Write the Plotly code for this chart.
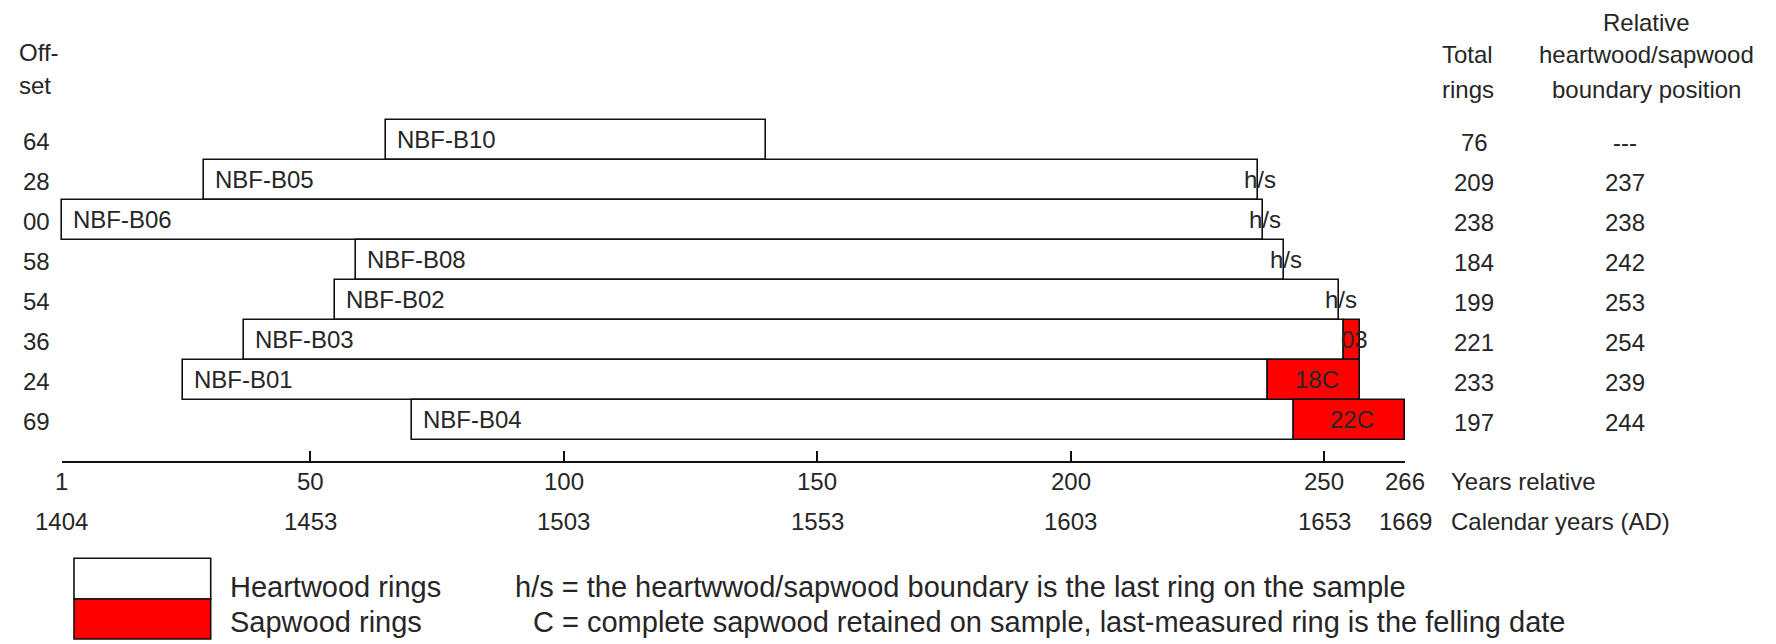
import plotly.graph_objects as go

# ---------------- data ----------------
samples = ["NBF-B10", "NBF-B05", "NBF-B06", "NBF-B08", "NBF-B02", "NBF-B03", "NBF-B01", "NBF-B04"]
offsets = [64, 28, 0, 58, 54, 36, 24, 69]
total_rings = [76, 209, 238, 184, 199, 221, 233, 197]
hs_boundary = [None, 237, 238, 242, 253, 254, 239, 244]
end_labels = ["", "h/s", "h/s", "h/s", "h/s", "03", "18C", "22C"]
rel_ticks = [1, 50, 100, 150, 200, 250, 266]
first_calendar_year = 1404

# ---------------- layout constants ----------------
W, H = 1776, 644
PX_1, PX_266 = 61.7, 1405.3          # pixel position of relative years 1 and 266
K = (PX_266 - PX_1) / 265.0          # pixels per year
ROW0, ROWH = 139.7, 40.0             # pixel centre of first row, row height


def px2v(px):
    return 1 + (px - PX_1) / K


def py2r(py):
    return (py - ROW0) / ROWH


def pxp(px):
    return px / W


def pyp(py):
    return 1 - py / H


FONT = "Arial, Liberation Sans, sans-serif"
TXT = "#262626"
FS = 24

rows = list(range(len(samples)))
starts = [o + 1 for o in offsets]
ends = [o + t for o, t in zip(offsets, total_rings)]
hw_end = [min(e, b) if b is not None else e for e, b in zip(ends, hs_boundary)]

sap_rows, sap_base, sap_len = [], [], []
for r, b, e in zip(rows, hs_boundary, ends):
    if b is not None and e > b:
        sap_rows.append(r)
        sap_base.append(b)
        sap_len.append(e - b)

fig = go.Figure()

fig.add_trace(go.Bar(
    orientation="h", y=rows, base=starts,
    x=[he - s for he, s in zip(hw_end, starts)],
    width=1, marker=dict(color="white", line=dict(color="#111", width=1.6)),
    hoverinfo="skip", showlegend=False))
fig.add_trace(go.Bar(
    orientation="h", y=sap_rows, base=sap_base, x=sap_len,
    width=1, marker=dict(color="#ff0000", line=dict(color="#111", width=1.6)),
    hoverinfo="skip", showlegend=False))

# invisible trace on the display axis so that it is drawn
fig.add_trace(go.Scatter(x=rel_ticks, y=[0] * len(rel_ticks), xaxis="x2", yaxis="y",
                         mode="markers", marker=dict(opacity=0), hoverinfo="skip",
                         showlegend=False))

ann = []


def add(x, y, text, xanchor="center", xref="x", yref="y", xshift=0, size=FS):
    ann.append(dict(x=x, y=y, text=text, xref=xref, yref=yref, xanchor=xanchor,
                    yanchor="middle", showarrow=False, xshift=xshift,
                    font=dict(family=FONT, size=size, color=TXT)))


for r, s, name in zip(rows, starts, samples):
    add(s, r, name, xanchor="left", xshift=9)

for r, lab, b, e in zip(rows, end_labels, hs_boundary, ends):
    if not lab:
        continue
    if lab == "h/s":
        add(b + 0.4, r, lab)
    else:
        add((b + e) / 2 + 0.5, r, lab)

# left column (offsets)
for r, o in zip(rows, offsets):
    add(px2v(52), r + 0.05, f"{o:02d}", xanchor="right")
# right columns
for r, t in zip(rows, total_rings):
    add(px2v(1474), r + 0.07, str(t))
for r, b in zip(rows, hs_boundary):
    add(px2v(1625), r + 0.07, "---" if b is None else str(b))

# headers
add(pxp(17), pyp(52), "Off-", xanchor="left", xref="paper", yref="paper")
add(pxp(17), pyp(85), "set", xanchor="left", xref="paper", yref="paper")
add(pxp(1467.5), pyp(55), "Total", xref="paper", yref="paper")
add(pxp(1468), pyp(89), "rings", xref="paper", yref="paper")
add(pxp(1646.5), pyp(23), "Relative", xref="paper", yref="paper")
add(pxp(1646.5), pyp(55), "heartwood/sapwood", xref="paper", yref="paper")
add(pxp(1646), pyp(89), "boundary position", xref="paper", yref="paper")

# axis labels (two rows)
for v in rel_ticks:
    add(v, py2r(481.7), str(v))
    add(v, py2r(521), str(v + first_calendar_year - 1))
add(pxp(1449), pyp(481.7), "Years relative", xanchor="left", xref="paper", yref="paper")
add(pxp(1449), pyp(521.7), "Calendar years (AD)", xanchor="left", xref="paper", yref="paper")

# legend
LFS = 29
add(pxp(228), pyp(586.7), "Heartwood rings", xanchor="left", xref="paper", yref="paper", size=LFS)
add(pxp(228), pyp(621.7), "Sapwood rings", xanchor="left", xref="paper", yref="paper", size=LFS)
add(pxp(513), pyp(586.7), "h/s = the heartwwod/sapwood boundary is the last ring on the sample",
    xanchor="left", xref="paper", yref="paper", size=LFS)
add(pxp(531), pyp(621.7), "C = complete sapwood retained on sample, last-measured ring is the felling date",
    xanchor="left", xref="paper", yref="paper", size=LFS)

shapes = [
    dict(type="rect", xref="paper", yref="paper", x0=pxp(74), x1=pxp(210.7),
         y0=pyp(599), y1=pyp(558.3), fillcolor="white", line=dict(color="#111", width=1.6)),
    dict(type="rect", xref="paper", yref="paper", x0=pxp(74), x1=pxp(210.7),
         y0=pyp(639), y1=pyp(599), fillcolor="#ff0000", line=dict(color="#111", width=1.6)),
]

fig.update_layout(
    width=W, height=H,
    margin=dict(l=0, r=0, t=0, b=0),
    paper_bgcolor="white", plot_bgcolor="rgba(0,0,0,0)",
    barmode="overlay", bargap=0,
    showlegend=False,
    xaxis=dict(domain=[0, 1], range=[px2v(0), px2v(W)], visible=False, fixedrange=True),
    yaxis=dict(domain=[0, 1], range=[py2r(H), py2r(0)], visible=False, fixedrange=True),
    xaxis2=dict(domain=[pxp(PX_1), pxp(PX_266)], range=[1, 266], anchor="free",
                position=pyp(462), showline=True, linecolor="#111", linewidth=1.6,
                ticks="inside", ticklen=10, tickwidth=1.6, tickcolor="#111",
                tickvals=rel_ticks, showticklabels=False, showgrid=False,
                zeroline=False, fixedrange=True),
    annotations=ann,
    shapes=shapes,
)

fig.write_html("out.html", config={"displayModeBar": False},
               post_script="document.body.style.margin='0';document.body.style.overflow='hidden';")
